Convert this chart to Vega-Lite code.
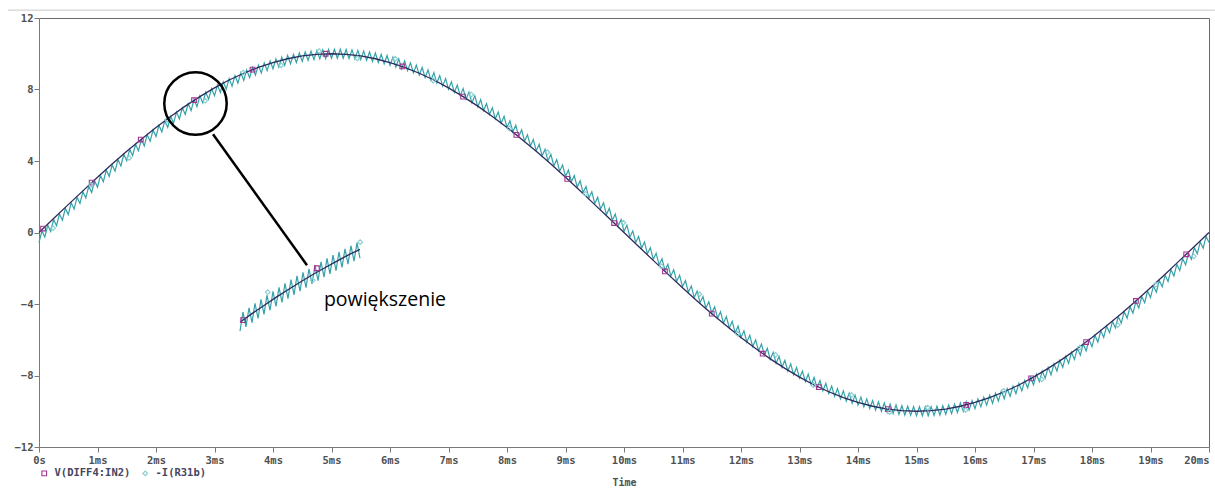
{
"$schema": "https://vega.github.io/schema/vega-lite/v6.json",
"width": 1170, "height": 429,
"autosize": "none",
"padding": {"left": 39, "top": 18, "right": 6, "bottom": 43},
"background": "white",
"config": {"view": {"stroke": "#6a6a6a", "strokeWidth": 1}, "font": "DejaVu Sans Mono"},
"datasets": {
"v": [{"t":0,"v":0},{"t":0.25,"v":0.78},{"t":0.5,"v":1.56},{"t":0.75,"v":2.33},{"t":1,"v":3.09},{"t":1.25,"v":3.83},{"t":1.5,"v":4.54},{"t":1.75,"v":5.22},{"t":2,"v":5.88},{"t":2.25,"v":6.49},{"t":2.5,"v":7.07},{"t":2.75,"v":7.6},{"t":3,"v":8.09},{"t":3.25,"v":8.53},{"t":3.5,"v":8.91},{"t":3.75,"v":9.24},{"t":4,"v":9.51},{"t":4.25,"v":9.72},{"t":4.5,"v":9.88},{"t":4.75,"v":9.97},{"t":5,"v":10},{"t":5.25,"v":9.97},{"t":5.5,"v":9.88},{"t":5.75,"v":9.72},{"t":6,"v":9.51},{"t":6.25,"v":9.24},{"t":6.5,"v":8.91},{"t":6.75,"v":8.53},{"t":7,"v":8.09},{"t":7.25,"v":7.6},{"t":7.5,"v":7.07},{"t":7.75,"v":6.49},{"t":8,"v":5.88},{"t":8.25,"v":5.22},{"t":8.5,"v":4.54},{"t":8.75,"v":3.83},{"t":9,"v":3.09},{"t":9.25,"v":2.33},{"t":9.5,"v":1.56},{"t":9.75,"v":0.78},{"t":10,"v":0},{"t":10.25,"v":-0.78},{"t":10.5,"v":-1.56},{"t":10.75,"v":-2.33},{"t":11,"v":-3.09},{"t":11.25,"v":-3.83},{"t":11.5,"v":-4.54},{"t":11.75,"v":-5.22},{"t":12,"v":-5.88},{"t":12.25,"v":-6.49},{"t":12.5,"v":-7.07},{"t":12.75,"v":-7.6},{"t":13,"v":-8.09},{"t":13.25,"v":-8.53},{"t":13.5,"v":-8.91},{"t":13.75,"v":-9.24},{"t":14,"v":-9.51},{"t":14.25,"v":-9.72},{"t":14.5,"v":-9.88},{"t":14.75,"v":-9.97},{"t":15,"v":-10},{"t":15.25,"v":-9.97},{"t":15.5,"v":-9.88},{"t":15.75,"v":-9.72},{"t":16,"v":-9.51},{"t":16.25,"v":-9.24},{"t":16.5,"v":-8.91},{"t":16.75,"v":-8.53},{"t":17,"v":-8.09},{"t":17.25,"v":-7.6},{"t":17.5,"v":-7.07},{"t":17.75,"v":-6.49},{"t":18,"v":-5.88},{"t":18.25,"v":-5.22},{"t":18.5,"v":-4.54},{"t":18.75,"v":-3.83},{"t":19,"v":-3.09},{"t":19.25,"v":-2.33},{"t":19.5,"v":-1.56},{"t":19.75,"v":-0.78},{"t":20,"v":0}],
"i": [{"t":0,"v":-0.56},{"t":0.05,"v":0.09},{"t":0.1,"v":-0.25},{"t":0.15,"v":0.41},{"t":0.2,"v":0.06},{"t":0.25,"v":0.72},{"t":0.3,"v":0.38},{"t":0.35,"v":1.03},{"t":0.4,"v":0.69},{"t":0.45,"v":1.35},{"t":0.5,"v":1.0},{"t":0.55,"v":1.66},{"t":0.6,"v":1.31},{"t":0.65,"v":1.97},{"t":0.7,"v":1.62},{"t":0.75,"v":2.28},{"t":0.8,"v":1.93},{"t":0.85,"v":2.58},{"t":0.9,"v":2.24},{"t":0.95,"v":2.89},{"t":1.0,"v":2.54},{"t":1.05,"v":3.19},{"t":1.1,"v":2.84},{"t":1.15,"v":3.49},{"t":1.2,"v":3.14},{"t":1.25,"v":3.78},{"t":1.3,"v":3.43},{"t":1.35,"v":4.08},{"t":1.4,"v":3.72},{"t":1.45,"v":4.37},{"t":1.5,"v":4.01},{"t":1.55,"v":4.65},{"t":1.6,"v":4.29},{"t":1.65,"v":4.93},{"t":1.7,"v":4.57},{"t":1.75,"v":5.2},{"t":1.8,"v":4.84},{"t":1.85,"v":5.47},{"t":1.9,"v":5.11},{"t":1.95,"v":5.74},{"t":2.0,"v":5.37},{"t":2.05,"v":6.0},{"t":2.1,"v":5.63},{"t":2.15,"v":6.25},{"t":2.2,"v":5.88},{"t":2.25,"v":6.5},{"t":2.3,"v":6.12},{"t":2.35,"v":6.74},{"t":2.4,"v":6.36},{"t":2.45,"v":6.98},{"t":2.5,"v":6.6},{"t":2.55,"v":7.21},{"t":2.6,"v":6.82},{"t":2.65,"v":7.43},{"t":2.7,"v":7.04},{"t":2.75,"v":7.65},{"t":2.8,"v":7.25},{"t":2.85,"v":7.85},{"t":2.9,"v":7.46},{"t":2.95,"v":8.05},{"t":3.0,"v":7.65},{"t":3.05,"v":8.25},{"t":3.1,"v":7.84},{"t":3.15,"v":8.43},{"t":3.2,"v":8.02},{"t":3.25,"v":8.61},{"t":3.3,"v":8.19},{"t":3.35,"v":8.78},{"t":3.4,"v":8.36},{"t":3.45,"v":8.94},{"t":3.5,"v":8.51},{"t":3.55,"v":9.09},{"t":3.6,"v":8.66},{"t":3.65,"v":9.23},{"t":3.7,"v":8.8},{"t":3.75,"v":9.36},{"t":3.8,"v":8.93},{"t":3.85,"v":9.49},{"t":3.9,"v":9.05},{"t":3.95,"v":9.6},{"t":4.0,"v":9.16},{"t":4.05,"v":9.71},{"t":4.1,"v":9.26},{"t":4.15,"v":9.81},{"t":4.2,"v":9.35},{"t":4.25,"v":9.9},{"t":4.3,"v":9.44},{"t":4.35,"v":9.97},{"t":4.4,"v":9.51},{"t":4.45,"v":10.04},{"t":4.5,"v":9.57},{"t":4.55,"v":10.1},{"t":4.6,"v":9.63},{"t":4.65,"v":10.15},{"t":4.7,"v":9.67},{"t":4.75,"v":10.19},{"t":4.8,"v":9.71},{"t":4.85,"v":10.22},{"t":4.9,"v":9.73},{"t":4.95,"v":10.24},{"t":5.0,"v":9.75},{"t":5.05,"v":10.25},{"t":5.1,"v":9.75},{"t":5.15,"v":10.25},{"t":5.2,"v":9.75},{"t":5.25,"v":10.24},{"t":5.3,"v":9.73},{"t":5.35,"v":10.22},{"t":5.4,"v":9.71},{"t":5.45,"v":10.19},{"t":5.5,"v":9.67},{"t":5.55,"v":10.15},{"t":5.6,"v":9.63},{"t":5.65,"v":10.1},{"t":5.7,"v":9.57},{"t":5.75,"v":10.04},{"t":5.8,"v":9.51},{"t":5.85,"v":9.97},{"t":5.9,"v":9.44},{"t":5.95,"v":9.9},{"t":6.0,"v":9.35},{"t":6.05,"v":9.81},{"t":6.1,"v":9.26},{"t":6.15,"v":9.71},{"t":6.2,"v":9.16},{"t":6.25,"v":9.6},{"t":6.3,"v":9.05},{"t":6.35,"v":9.49},{"t":6.4,"v":8.93},{"t":6.45,"v":9.36},{"t":6.5,"v":8.8},{"t":6.55,"v":9.23},{"t":6.6,"v":8.66},{"t":6.65,"v":9.09},{"t":6.7,"v":8.51},{"t":6.75,"v":8.94},{"t":6.8,"v":8.36},{"t":6.85,"v":8.78},{"t":6.9,"v":8.19},{"t":6.95,"v":8.61},{"t":7.0,"v":8.02},{"t":7.05,"v":8.43},{"t":7.1,"v":7.84},{"t":7.15,"v":8.25},{"t":7.2,"v":7.65},{"t":7.25,"v":8.05},{"t":7.3,"v":7.46},{"t":7.35,"v":7.85},{"t":7.4,"v":7.25},{"t":7.45,"v":7.65},{"t":7.5,"v":7.04},{"t":7.55,"v":7.43},{"t":7.6,"v":6.82},{"t":7.65,"v":7.21},{"t":7.7,"v":6.6},{"t":7.75,"v":6.98},{"t":7.8,"v":6.36},{"t":7.85,"v":6.74},{"t":7.9,"v":6.12},{"t":7.95,"v":6.5},{"t":8.0,"v":5.88},{"t":8.05,"v":6.25},{"t":8.1,"v":5.63},{"t":8.15,"v":6.0},{"t":8.2,"v":5.37},{"t":8.25,"v":5.74},{"t":8.3,"v":5.11},{"t":8.35,"v":5.47},{"t":8.4,"v":4.84},{"t":8.45,"v":5.2},{"t":8.5,"v":4.57},{"t":8.55,"v":4.93},{"t":8.6,"v":4.29},{"t":8.65,"v":4.65},{"t":8.7,"v":4.01},{"t":8.75,"v":4.37},{"t":8.8,"v":3.72},{"t":8.85,"v":4.08},{"t":8.9,"v":3.43},{"t":8.95,"v":3.78},{"t":9.0,"v":3.14},{"t":9.05,"v":3.49},{"t":9.1,"v":2.84},{"t":9.15,"v":3.19},{"t":9.2,"v":2.54},{"t":9.25,"v":2.89},{"t":9.3,"v":2.24},{"t":9.35,"v":2.58},{"t":9.4,"v":1.93},{"t":9.45,"v":2.28},{"t":9.5,"v":1.62},{"t":9.55,"v":1.97},{"t":9.6,"v":1.31},{"t":9.65,"v":1.66},{"t":9.7,"v":1.0},{"t":9.75,"v":1.35},{"t":9.8,"v":0.69},{"t":9.85,"v":1.03},{"t":9.9,"v":0.38},{"t":9.95,"v":0.72},{"t":10.0,"v":0.06},{"t":10.05,"v":0.41},{"t":10.1,"v":-0.25},{"t":10.15,"v":0.09},{"t":10.2,"v":-0.56},{"t":10.25,"v":-0.22},{"t":10.3,"v":-0.88},{"t":10.35,"v":-0.53},{"t":10.4,"v":-1.19},{"t":10.45,"v":-0.85},{"t":10.5,"v":-1.5},{"t":10.55,"v":-1.16},{"t":10.6,"v":-1.81},{"t":10.65,"v":-1.47},{"t":10.7,"v":-2.12},{"t":10.75,"v":-1.78},{"t":10.8,"v":-2.43},{"t":10.85,"v":-2.08},{"t":10.9,"v":-2.74},{"t":10.95,"v":-2.39},{"t":11.0,"v":-3.04},{"t":11.05,"v":-2.69},{"t":11.1,"v":-3.34},{"t":11.15,"v":-2.99},{"t":11.2,"v":-3.64},{"t":11.25,"v":-3.28},{"t":11.3,"v":-3.93},{"t":11.35,"v":-3.58},{"t":11.4,"v":-4.22},{"t":11.45,"v":-3.87},{"t":11.5,"v":-4.51},{"t":11.55,"v":-4.15},{"t":11.6,"v":-4.79},{"t":11.65,"v":-4.43},{"t":11.7,"v":-5.07},{"t":11.75,"v":-4.7},{"t":11.8,"v":-5.34},{"t":11.85,"v":-4.97},{"t":11.9,"v":-5.61},{"t":11.95,"v":-5.24},{"t":12.0,"v":-5.87},{"t":12.05,"v":-5.5},{"t":12.1,"v":-6.13},{"t":12.15,"v":-5.75},{"t":12.2,"v":-6.38},{"t":12.25,"v":-6.0},{"t":12.3,"v":-6.62},{"t":12.35,"v":-6.24},{"t":12.4,"v":-6.86},{"t":12.45,"v":-6.48},{"t":12.5,"v":-7.1},{"t":12.55,"v":-6.71},{"t":12.6,"v":-7.32},{"t":12.65,"v":-6.93},{"t":12.7,"v":-7.54},{"t":12.75,"v":-7.15},{"t":12.8,"v":-7.75},{"t":12.85,"v":-7.35},{"t":12.9,"v":-7.96},{"t":12.95,"v":-7.55},{"t":13.0,"v":-8.15},{"t":13.05,"v":-7.75},{"t":13.1,"v":-8.34},{"t":13.15,"v":-7.93},{"t":13.2,"v":-8.52},{"t":13.25,"v":-8.11},{"t":13.3,"v":-8.69},{"t":13.35,"v":-8.28},{"t":13.4,"v":-8.86},{"t":13.45,"v":-8.44},{"t":13.5,"v":-9.01},{"t":13.55,"v":-8.59},{"t":13.6,"v":-9.16},{"t":13.65,"v":-8.73},{"t":13.7,"v":-9.3},{"t":13.75,"v":-8.86},{"t":13.8,"v":-9.43},{"t":13.85,"v":-8.99},{"t":13.9,"v":-9.55},{"t":13.95,"v":-9.1},{"t":14.0,"v":-9.66},{"t":14.05,"v":-9.21},{"t":14.1,"v":-9.76},{"t":14.15,"v":-9.31},{"t":14.2,"v":-9.85},{"t":14.25,"v":-9.4},{"t":14.3,"v":-9.94},{"t":14.35,"v":-9.47},{"t":14.4,"v":-10.01},{"t":14.45,"v":-9.54},{"t":14.5,"v":-10.07},{"t":14.55,"v":-9.6},{"t":14.6,"v":-10.13},{"t":14.65,"v":-9.65},{"t":14.7,"v":-10.17},{"t":14.75,"v":-9.69},{"t":14.8,"v":-10.21},{"t":14.85,"v":-9.72},{"t":14.9,"v":-10.23},{"t":14.95,"v":-9.74},{"t":15.0,"v":-10.25},{"t":15.05,"v":-9.75},{"t":15.1,"v":-10.25},{"t":15.15,"v":-9.75},{"t":15.2,"v":-10.25},{"t":15.25,"v":-9.74},{"t":15.3,"v":-10.23},{"t":15.35,"v":-9.72},{"t":15.4,"v":-10.21},{"t":15.45,"v":-9.69},{"t":15.5,"v":-10.17},{"t":15.55,"v":-9.65},{"t":15.6,"v":-10.13},{"t":15.65,"v":-9.6},{"t":15.7,"v":-10.07},{"t":15.75,"v":-9.54},{"t":15.8,"v":-10.01},{"t":15.85,"v":-9.47},{"t":15.9,"v":-9.94},{"t":15.95,"v":-9.4},{"t":16.0,"v":-9.85},{"t":16.05,"v":-9.31},{"t":16.1,"v":-9.76},{"t":16.15,"v":-9.21},{"t":16.2,"v":-9.66},{"t":16.25,"v":-9.1},{"t":16.3,"v":-9.55},{"t":16.35,"v":-8.99},{"t":16.4,"v":-9.43},{"t":16.45,"v":-8.86},{"t":16.5,"v":-9.3},{"t":16.55,"v":-8.73},{"t":16.6,"v":-9.16},{"t":16.65,"v":-8.59},{"t":16.7,"v":-9.01},{"t":16.75,"v":-8.44},{"t":16.8,"v":-8.86},{"t":16.85,"v":-8.28},{"t":16.9,"v":-8.69},{"t":16.95,"v":-8.11},{"t":17.0,"v":-8.52},{"t":17.05,"v":-7.93},{"t":17.1,"v":-8.34},{"t":17.15,"v":-7.75},{"t":17.2,"v":-8.15},{"t":17.25,"v":-7.55},{"t":17.3,"v":-7.96},{"t":17.35,"v":-7.35},{"t":17.4,"v":-7.75},{"t":17.45,"v":-7.15},{"t":17.5,"v":-7.54},{"t":17.55,"v":-6.93},{"t":17.6,"v":-7.32},{"t":17.65,"v":-6.71},{"t":17.7,"v":-7.1},{"t":17.75,"v":-6.48},{"t":17.8,"v":-6.86},{"t":17.85,"v":-6.24},{"t":17.9,"v":-6.62},{"t":17.95,"v":-6.0},{"t":18.0,"v":-6.38},{"t":18.05,"v":-5.75},{"t":18.1,"v":-6.13},{"t":18.15,"v":-5.5},{"t":18.2,"v":-5.87},{"t":18.25,"v":-5.24},{"t":18.3,"v":-5.61},{"t":18.35,"v":-4.97},{"t":18.4,"v":-5.34},{"t":18.45,"v":-4.7},{"t":18.5,"v":-5.07},{"t":18.55,"v":-4.43},{"t":18.6,"v":-4.79},{"t":18.65,"v":-4.15},{"t":18.7,"v":-4.51},{"t":18.75,"v":-3.87},{"t":18.8,"v":-4.22},{"t":18.85,"v":-3.58},{"t":18.9,"v":-3.93},{"t":18.95,"v":-3.28},{"t":19.0,"v":-3.64},{"t":19.05,"v":-2.99},{"t":19.1,"v":-3.34},{"t":19.15,"v":-2.69},{"t":19.2,"v":-3.04},{"t":19.25,"v":-2.39},{"t":19.3,"v":-2.74},{"t":19.35,"v":-2.08},{"t":19.4,"v":-2.43},{"t":19.45,"v":-1.78},{"t":19.5,"v":-2.12},{"t":19.55,"v":-1.47},{"t":19.6,"v":-1.81},{"t":19.65,"v":-1.16},{"t":19.7,"v":-1.5},{"t":19.75,"v":-0.85},{"t":19.8,"v":-1.19},{"t":19.85,"v":-0.53},{"t":19.9,"v":-0.88},{"t":19.95,"v":-0.22},{"t":20.0,"v":-0.56}],
"iv": [{"t":3.436,"v":-5.02},{"t":3.641,"v":-4.54},{"t":3.846,"v":-4.08},{"t":4.051,"v":-3.63},{"t":4.256,"v":-3.2},{"t":4.462,"v":-2.78},{"t":4.667,"v":-2.38},{"t":4.872,"v":-2.0},{"t":5.077,"v":-1.63},{"t":5.282,"v":-1.27},{"t":5.487,"v":-0.94}],
"ii": [{"t":3.436,"v":-5.52},{"t":3.487,"v":-4.45},{"t":3.538,"v":-5.28},{"t":3.59,"v":-4.21},{"t":3.641,"v":-5.04},{"t":3.692,"v":-3.97},{"t":3.744,"v":-4.81},{"t":3.795,"v":-3.74},{"t":3.846,"v":-4.58},{"t":3.897,"v":-3.51},{"t":3.949,"v":-4.35},{"t":4.0,"v":-3.29},{"t":4.051,"v":-4.13},{"t":4.103,"v":-3.07},{"t":4.154,"v":-3.91},{"t":4.205,"v":-2.85},{"t":4.256,"v":-3.7},{"t":4.308,"v":-2.64},{"t":4.359,"v":-3.49},{"t":4.41,"v":-2.43},{"t":4.462,"v":-3.28},{"t":4.513,"v":-2.23},{"t":4.564,"v":-3.08},{"t":4.615,"v":-2.03},{"t":4.667,"v":-2.88},{"t":4.718,"v":-1.83},{"t":4.769,"v":-2.69},{"t":4.821,"v":-1.64},{"t":4.872,"v":-2.5},{"t":4.923,"v":-1.45},{"t":4.974,"v":-2.31},{"t":5.026,"v":-1.27},{"t":5.077,"v":-2.13},{"t":5.128,"v":-1.09},{"t":5.179,"v":-1.95},{"t":5.231,"v":-0.91},{"t":5.282,"v":-1.77},{"t":5.333,"v":-0.74},{"t":5.385,"v":-1.6},{"t":5.436,"v":-0.57},{"t":5.487,"v":-1.44}],
"mk": [{"t":0.07,"v":0.22,"s":"V(DIFF4:IN2)"},{"t":0.9,"v":2.79,"s":"V(DIFF4:IN2)"},{"t":1.74,"v":5.2,"s":"V(DIFF4:IN2)"},{"t":2.65,"v":7.4,"s":"V(DIFF4:IN2)"},{"t":3.65,"v":9.11,"s":"V(DIFF4:IN2)"},{"t":4.9,"v":10.0,"s":"V(DIFF4:IN2)"},{"t":6.21,"v":9.29,"s":"V(DIFF4:IN2)"},{"t":7.25,"v":7.6,"s":"V(DIFF4:IN2)"},{"t":8.16,"v":5.46,"s":"V(DIFF4:IN2)"},{"t":9.03,"v":3.0,"s":"V(DIFF4:IN2)"},{"t":9.83,"v":0.53,"s":"V(DIFF4:IN2)"},{"t":10.7,"v":-2.18,"s":"V(DIFF4:IN2)"},{"t":11.5,"v":-4.54,"s":"V(DIFF4:IN2)"},{"t":12.37,"v":-6.78,"s":"V(DIFF4:IN2)"},{"t":13.33,"v":-8.65,"s":"V(DIFF4:IN2)"},{"t":14.51,"v":-9.88,"s":"V(DIFF4:IN2)"},{"t":15.85,"v":-9.65,"s":"V(DIFF4:IN2)"},{"t":16.96,"v":-8.16,"s":"V(DIFF4:IN2)"},{"t":17.9,"v":-6.13,"s":"V(DIFF4:IN2)"},{"t":18.75,"v":-3.83,"s":"V(DIFF4:IN2)"},{"t":19.61,"v":-1.22,"s":"V(DIFF4:IN2)"},{"t":3.49,"v":-4.9,"s":"V(DIFF4:IN2)"},{"t":4.75,"v":-2.0,"s":"V(DIFF4:IN2)"},
{"t":0.24,"v":0.24,"s":"-I(R31b)"},{"t":0.89,"v":2.66,"s":"-I(R31b)"},{"t":1.54,"v":4.17,"s":"-I(R31b)"},{"t":2.19,"v":6.3,"s":"-I(R31b)"},{"t":2.84,"v":7.38,"s":"-I(R31b)"},{"t":3.49,"v":8.95,"s":"-I(R31b)"},{"t":4.14,"v":9.35,"s":"-I(R31b)"},{"t":4.79,"v":10.15,"s":"-I(R31b)"},{"t":5.44,"v":9.74,"s":"-I(R31b)"},{"t":6.09,"v":9.72,"s":"-I(R31b)"},{"t":6.74,"v":8.5,"s":"-I(R31b)"},{"t":7.39,"v":7.72,"s":"-I(R31b)"},{"t":8.04,"v":5.83,"s":"-I(R31b)"},{"t":8.69,"v":4.49,"s":"-I(R31b)"},{"t":9.34,"v":2.16,"s":"-I(R31b)"},{"t":9.99,"v":0.55,"s":"-I(R31b)"},{"t":10.64,"v":-1.89,"s":"-I(R31b)"},{"t":11.29,"v":-3.45,"s":"-I(R31b)"},{"t":11.94,"v":-5.66,"s":"-I(R31b)"},{"t":12.59,"v":-6.85,"s":"-I(R31b)"},{"t":13.24,"v":-8.54,"s":"-I(R31b)"},{"t":13.89,"v":-9.09,"s":"-I(R31b)"},{"t":14.54,"v":-10.05,"s":"-I(R31b)"},{"t":15.19,"v":-9.8,"s":"-I(R31b)"},{"t":15.84,"v":-9.93,"s":"-I(R31b)"},{"t":16.49,"v":-8.86,"s":"-I(R31b)"},{"t":17.14,"v":-8.21,"s":"-I(R31b)"},{"t":17.79,"v":-6.44,"s":"-I(R31b)"},{"t":18.44,"v":-5.18,"s":"-I(R31b)"},{"t":19.09,"v":-2.92,"s":"-I(R31b)"},{"t":19.74,"v":-1.33,"s":"-I(R31b)"},{"t":3.91,"v":-3.34,"s":"-I(R31b)"},{"t":4.68,"v":-2.67,"s":"-I(R31b)"},{"t":5.49,"v":-0.54,"s":"-I(R31b)"}],
"circ": [{"t":2.675,"v":7.22}],
"seg": [{"t":2.975,"v":5.5,"t2":4.581,"v2":-1.83}],
"lbl": [{"t":4.87,"v":-4.12,"txt":"powiększenie"}],
"frame": [{"t":-0.53,"v":12.44,"t2":20.1}]
},
"encoding": {
"x": {"field": "t", "type": "quantitative", "scale": {"domain": [0, 20], "nice": false, "zero": false},
 "axis": {"values": [0,1,2,3,4,5,6,7,8,9,10,11,12,13,14,15,16,17,18,19,20], "labelExpr": "datum.value == 0 ? '0s' : datum.value + 'ms'", "title": "Time", "grid": false, "tickSize": 5, "labelPadding": 3, "labelFont": "DejaVu Sans Mono", "labelFontSize": 10.5, "labelFontWeight": "bold", "labelColor": "#505050", "domainColor": "#7a7a7a", "tickColor": "#7a7a7a", "titleFont": "DejaVu Sans Mono", "titleFontSize": 10, "titleFontWeight": "bold", "titleColor": "#505050", "titlePadding": 12, "labelFlush": false, "labelOverlap": false, "labelBound": false, "labelAlign": {"condition": {"test": "datum.value == 20", "value": "right"}, "value": "center"}}},
"y": {"field": "v", "type": "quantitative", "scale": {"domain": [-12, 12], "nice": false, "zero": false},
 "axis": {"values": [-12,-8,-4,0,4,8,12], "title": null, "grid": false, "tickSize": 5, "labelPadding": 1, "labelFont": "DejaVu Sans Mono", "labelFontSize": 10.5, "labelFontWeight": "bold", "labelColor": "#505050", "domainColor": "#7a7a7a", "tickColor": "#7a7a7a", "labelOverlap": false, "labelBound": false}}
},
"layer": [
{"data": {"name": "frame"}, "mark": {"type": "rule", "color": "#c8c8c8", "strokeWidth": 1, "clip": false}, "encoding": {"x2": {"field": "t2"}}},
{"data": {"name": "i"}, "mark": {"type": "line", "color": "#35a2a8", "strokeWidth": 1.2}},
{"data": {"name": "v"}, "mark": {"type": "line", "color": "#2e2b5f", "strokeWidth": 1.3}},
{"data": {"name": "ii"}, "mark": {"type": "line", "color": "#35a2a8", "strokeWidth": 1.2}},
{"data": {"name": "iv"}, "mark": {"type": "line", "color": "#2e2b5f", "strokeWidth": 1.3}},
{"data": {"name": "mk"}, "mark": {"type": "point", "filled": false, "size": 22, "strokeWidth": 1.1, "opacity": 1},
 "encoding": {
  "color": {"field": "s", "type": "nominal", "scale": {"domain": ["V(DIFF4:IN2)", "-I(R31b)"], "range": ["#a0348e", "#86cdd0"]},
   "legend": {"orient": "none", "legendX": 0, "legendY": 450, "direction": "horizontal", "title": null, "labelFont": "DejaVu Sans Mono", "labelFontSize": 10.5, "labelFontWeight": "bold", "labelColor": "#454560", "symbolSize": 22, "symbolStrokeWidth": 1.1, "labelOffset": 5, "columnPadding": 9}},
  "shape": {"field": "s", "type": "nominal", "scale": {"domain": ["V(DIFF4:IN2)", "-I(R31b)"], "range": ["square", "diamond"]}}
 }},
{"data": {"name": "circ"}, "mark": {"type": "point", "shape": "circle", "filled": false, "size": 3900, "stroke": "#000000", "strokeWidth": 2.5, "opacity": 1}},
{"data": {"name": "seg"}, "mark": {"type": "rule", "color": "#000000", "strokeWidth": 2.5}, "encoding": {"x2": {"field": "t2"}, "y2": {"field": "v2"}}},
{"data": {"name": "lbl"}, "mark": {"type": "text", "align": "left", "baseline": "alphabetic", "font": "Open Sans", "fontSize": 19.5, "fontWeight": 500, "color": "#000000"}, "encoding": {"text": {"field": "txt"}}}
]
}
